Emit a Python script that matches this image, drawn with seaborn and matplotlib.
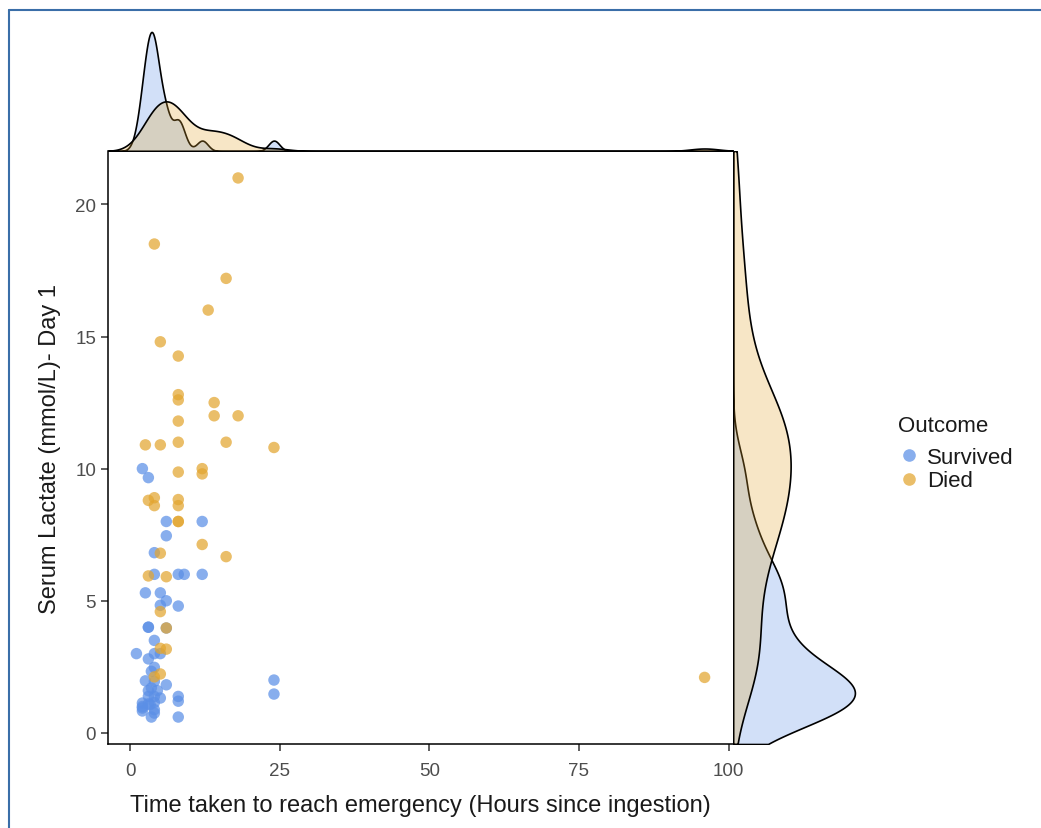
import numpy as np
import pandas as pd
import matplotlib
matplotlib.use("Agg")
import matplotlib.pyplot as plt
from matplotlib.lines import Line2D
import seaborn as sns

# values
survived_hours = [2, 3, 6, 12, 6, 4, 4, 8, 9, 12, 2.5, 5, 6, 5, 8, 3, 3, 6, 4, 1,
                  4, 5, 3, 4, 3.5, 2.5, 4, 6, 24, 24, 3, 4.5, 3, 4, 5, 8, 8, 2, 2, 2,
                  3.3, 4, 4, 3.5, 8, 2, 3, 4, 3.5]
survived_lactate = [10.0, 9.66, 8.0, 8.0, 7.46, 6.82, 6.0, 6.0, 6.0, 6.0, 5.3, 5.3, 5.0, 4.83, 4.8, 4.0, 4.0, 3.97, 3.5, 3.0,
                    3.0, 3.0, 2.8, 2.48, 2.33, 1.97, 1.95, 1.82, 2.0, 1.47, 1.6, 1.6, 1.38, 1.38, 1.32, 1.38, 1.2, 1.13, 0.94, 0.83,
                    1.07, 0.88, 0.75, 0.6, 0.6, 1.0, 1.1, 1.15, 1.7]
died_hours = [18, 4, 16, 13, 5, 8, 8, 8, 14, 14, 18, 8, 2.5, 5, 8, 16, 24, 8, 12, 12,
              3, 4, 4, 8, 8, 8, 8, 12, 16, 5, 3, 6, 5, 6, 5, 6, 4, 5, 96]
died_lactate = [21.0, 18.5, 17.2, 16.0, 14.8, 14.26, 12.8, 12.6, 12.5, 12.0, 12.0, 11.8, 10.9, 10.9, 11.0, 11.0, 10.8, 9.87, 10.0, 9.8,
                8.8, 8.9, 8.6, 8.83, 8.6, 8.0, 8.0, 7.13, 6.67, 6.8, 5.94, 5.91, 4.59, 3.97, 3.2, 3.17, 2.12, 2.23, 2.1]
outcomes = ['Survived', 'Died']
colors = {'Survived': '#5B8FE6', 'Died': '#E3A52F'}

df = pd.concat([
    pd.DataFrame({'hours': survived_hours, 'lactate': survived_lactate, 'Outcome': 'Survived'}),
    pd.DataFrame({'hours': died_hours, 'lactate': died_lactate, 'Outcome': 'Died'}),
], ignore_index=True)

sns.set_theme(style='ticks')
plt.rcParams['font.family'] = ['Liberation Sans', 'DejaVu Sans']

W, H = 1041, 829
fig = plt.figure(figsize=(W / 100, H / 100), dpi=100)


def px_axes(left, top, right, bottom):
    return fig.add_axes([left / W, 1 - bottom / H, (right - left) / W, (bottom - top) / H])


def expand(v):
    lo, hi = min(v), max(v)
    pad = 0.05 * (hi - lo)
    return lo - pad, hi + pad


def nrd0_adjust(v):
    # R's default bandwidth, expressed relative to scipy's scott rule
    v = np.asarray(v, dtype=float)
    sd = v.std(ddof=1)
    iqr = np.subtract(*np.percentile(v, [75, 25]))
    return 0.9 * min(sd, iqr / 1.34) / sd


ax = px_axes(108, 152, 733, 745)
ax_top = px_axes(108, 27, 733, 152)
ax_right = px_axes(733, 152, 861, 745)

sns.scatterplot(data=df, x='hours', y='lactate', hue='Outcome', hue_order=outcomes,
                palette=colors, s=68, alpha=0.72, linewidth=0, ax=ax)

xlim = expand(df['hours'])
ylim = expand(df['lactate'])
ax.set_xlim(xlim)
ax.set_ylim(ylim)
ax.set_xticks([0, 25, 50, 75, 100])
ax.set_yticks([0, 5, 10, 15, 20])
sns.despine(ax=ax)
for sp in ['left', 'bottom']:
    ax.spines[sp].set_color('black')
    ax.spines[sp].set_linewidth(1.1)
ax.tick_params(direction='out', length=5, width=1.1, color='#333333',
               labelsize=13.5, labelcolor='#4D4D4D')
ax.tick_params(axis='x', pad=8)
ax.tick_params(axis='y', pad=3.5)
ax.set_xlabel('Time taken to reach emergency (Hours since ingestion)', fontsize=17, color='#1a1a1a', labelpad=11)
ax.set_ylabel('Serum Lactate (mmol/L)- Day 1', fontsize=17, color='#1a1a1a', labelpad=10)

for name in outcomes:
    sub = df[df['Outcome'] == name]
    sns.kdeplot(x=sub['hours'], ax=ax_top, fill=True, color=colors[name], alpha=0.27,
                edgecolor='black', linewidth=1.2, bw_adjust=nrd0_adjust(sub['hours']),
                cut=100, clip=xlim, gridsize=1500)
    sns.kdeplot(y=sub['lactate'], ax=ax_right, fill=True, color=colors[name], alpha=0.27,
                edgecolor='black', linewidth=1.2, bw_adjust=nrd0_adjust(sub['lactate']),
                cut=100, clip=ylim, gridsize=1500)

ax_top.set_xlim(xlim)
ax_top.set_ylim(bottom=0)
ax_top.set_axis_off()
ax_right.set_ylim(ylim)
ax_right.set_xlim(left=0)
ax_right.set_axis_off()

sns.move_legend(ax, loc='upper left', bbox_to_anchor=(887 / W, 1 - 405 / H),
                bbox_transform=fig.transFigure, frameon=False, title='Outcome',
                fontsize=16, title_fontsize=16, handlelength=1.0, handletextpad=0.3,
                labelspacing=0.1, borderpad=0, markerscale=1.1)
leg = ax.get_legend()
leg._legend_box.align = 'left'
leg._legend_box.sep = 8
leg.get_title().set_color('#1a1a1a')
for t in leg.get_texts():
    t.set_color('#1a1a1a')

# screenshot frame
fig.add_artist(Line2D([8.5 / W, 8.5 / W], [0, 1 - 10.5 / H], color='#3A6EA8', lw=1.5, transform=fig.transFigure))
fig.add_artist(Line2D([8.5 / W, 1], [1 - 10.5 / H, 1 - 10.5 / H], color='#3A6EA8', lw=1.5, transform=fig.transFigure))

fig.savefig('out.png', dpi=100)
